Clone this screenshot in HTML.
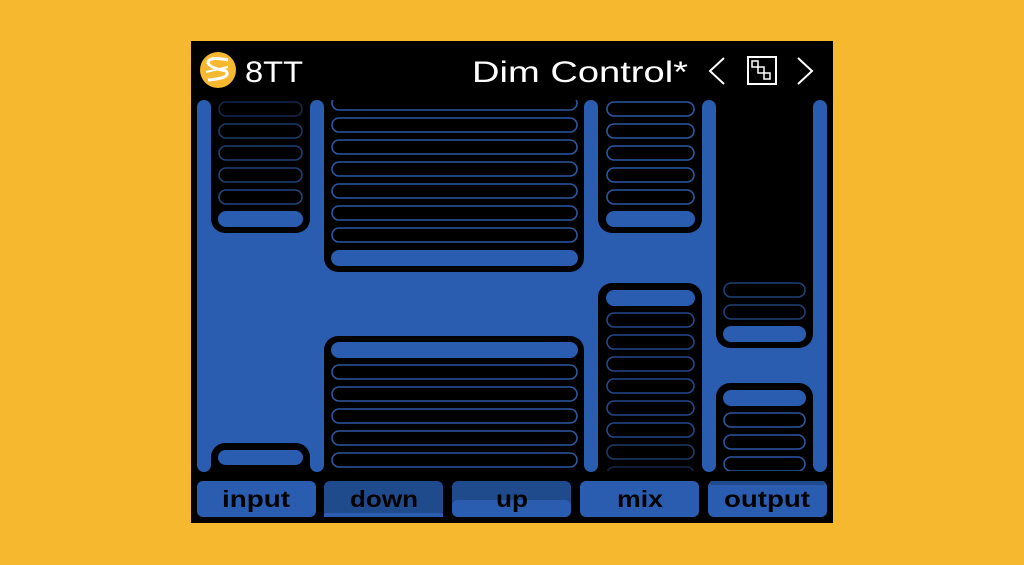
<!DOCTYPE html>
<html><head><meta charset="utf-8"><style>
html,body{margin:0;padding:0;background:#F5B82E;}
svg{display:block;}
</style></head><body>
<svg width="1024" height="565" viewBox="0 0 1024 565" xmlns="http://www.w3.org/2000/svg">
<defs><clipPath id="c"><rect x="191" y="100" width="642" height="371"/></clipPath></defs>
<rect width="1024" height="565" fill="#F5B82E"/>
<rect x="191" y="41" width="642" height="482" fill="#000"/>
<rect x="197" y="107" width="630" height="358" fill="#2A5DB0"/>
<g fill="#000">
<rect x="211" y="70" width="99" height="163" rx="14"/>
<rect x="324" y="70" width="260" height="202" rx="14"/>
<rect x="598" y="70" width="104" height="163" rx="14"/>
<rect x="716" y="70" width="97" height="278" rx="14"/>
<rect x="211" y="443" width="99" height="60" rx="14"/>
<rect x="324" y="336" width="260" height="150" rx="14"/>
<rect x="598" y="283" width="104" height="200" rx="14"/>
<rect x="716" y="383" width="97" height="100" rx="14"/>
</g>
<g fill="#2A5DB0">
<rect x="197" y="100" width="14" height="372" rx="7"/>
<rect x="310" y="100" width="14" height="372" rx="7"/>
<rect x="584" y="100" width="14" height="372" rx="7"/>
<rect x="702" y="100" width="14" height="372" rx="7"/>
<rect x="813" y="100" width="14" height="372" rx="7"/>
</g>
<g clip-path="url(#c)" stroke-width="1.6" fill="none">
<rect x="219" y="102" width="83" height="14" rx="7" stroke="#14284a"/>
<rect x="219" y="124" width="83" height="14" rx="7" stroke="#1c3a6c"/>
<rect x="219" y="146" width="83" height="14" rx="7" stroke="#1f4078"/>
<rect x="219" y="168" width="83" height="14" rx="7" stroke="#1f4078"/>
<rect x="219" y="190" width="83" height="14" rx="7" stroke="#22467f"/>
<rect x="218" y="211" width="85" height="16" rx="8" fill="#2A5DB0" stroke="none"/>
<g stroke="#2A58A2">
<rect x="332" y="96" width="245" height="14" rx="7"/>
<rect x="332" y="118" width="245" height="14" rx="7"/>
<rect x="332" y="140" width="245" height="14" rx="7"/>
<rect x="332" y="162" width="245" height="14" rx="7"/>
<rect x="332" y="184" width="245" height="14" rx="7"/>
<rect x="332" y="206" width="245" height="14" rx="7"/>
<rect x="332" y="228" width="245" height="14" rx="7"/>
</g>
<rect x="331" y="250" width="247" height="16" rx="8" fill="#2A5DB0" stroke="none"/>
<g stroke="#2A58A2">
<rect x="607" y="102" width="87" height="14" rx="7"/>
<rect x="607" y="124" width="87" height="14" rx="7"/>
<rect x="607" y="146" width="87" height="14" rx="7"/>
<rect x="607" y="168" width="87" height="14" rx="7"/>
<rect x="607" y="190" width="87" height="14" rx="7"/>
</g>
<rect x="606" y="211" width="89" height="16" rx="8" fill="#2A5DB0" stroke="none"/>
<g stroke="#1f4078">
<rect x="724" y="283" width="81" height="14" rx="7"/>
<rect x="724" y="305" width="81" height="14" rx="7"/>
</g>
<rect x="723" y="326" width="83" height="16" rx="8" fill="#2A5DB0" stroke="none"/>
<rect x="218" y="450" width="85" height="15" rx="7.5" fill="#2A5DB0" stroke="none"/>
<rect x="331" y="342" width="247" height="16" rx="8" fill="#2A5DB0" stroke="none"/>
<g stroke="#2A58A2">
<rect x="332" y="365" width="245" height="14" rx="7"/>
<rect x="332" y="387" width="245" height="14" rx="7"/>
<rect x="332" y="409" width="245" height="14" rx="7"/>
<rect x="332" y="431" width="245" height="14" rx="7"/>
<rect x="332" y="453" width="245" height="14" rx="7"/>
</g>
<rect x="606" y="290" width="89" height="16" rx="8" fill="#2A5DB0" stroke="none"/>
<g stroke="#23498a">
<rect x="607" y="313" width="87" height="14" rx="7"/>
<rect x="607" y="335" width="87" height="14" rx="7"/>
<rect x="607" y="357" width="87" height="14" rx="7"/>
<rect x="607" y="379" width="87" height="14" rx="7"/>
<rect x="607" y="401" width="87" height="14" rx="7"/>
<rect x="607" y="423" width="87" height="14" rx="7"/>
<rect x="607" y="445" width="87" height="14" rx="7" stroke="#1c3a6c"/>
<rect x="607" y="467" width="87" height="14" rx="7" stroke="#14284a"/>
</g>
<rect x="723" y="390" width="83" height="16" rx="8" fill="#2A5DB0" stroke="none"/>
<g stroke="#2A58A2">
<rect x="724" y="413" width="81" height="14" rx="7"/>
<rect x="724" y="435" width="81" height="14" rx="7"/>
<rect x="724" y="457" width="81" height="14" rx="7"/>
</g>
</g>
<rect x="197" y="481" width="119" height="36" rx="6" fill="#2A5DB0"/>
<rect x="324" y="481" width="119" height="36" rx="6" fill="#1F4A8C"/>
<rect x="324" y="513" width="119" height="4" fill="#2A5DB0"/>
<rect x="452" y="481" width="119" height="36" rx="6" fill="#1F4A8C"/>
<rect x="452" y="500" width="119" height="17" rx="6" fill="#2A5DB0"/>
<rect x="580" y="481" width="119" height="36" rx="6" fill="#2A5DB0"/>
<rect x="708" y="481" width="119" height="36" rx="6" fill="#2A5DB0"/>
<rect x="710" y="481" width="115" height="4" rx="2" fill="#1F4A8C"/>
<g font-family="Liberation Sans, sans-serif" font-weight="bold" font-size="23" fill="#000" lengthAdjust="spacingAndGlyphs">
<text x="222" y="507" textLength="68" lengthAdjust="spacingAndGlyphs">input</text>
<text x="350" y="507" textLength="68" lengthAdjust="spacingAndGlyphs">down</text>
<text x="496" y="507" textLength="32" lengthAdjust="spacingAndGlyphs">up</text>
<text x="617" y="507" textLength="46" lengthAdjust="spacingAndGlyphs">mix</text>
<text x="724" y="507" textLength="86" lengthAdjust="spacingAndGlyphs">output</text>
</g>
<circle cx="218" cy="70" r="18" fill="#F5B82E"/>
<path d="M228 60 Q208 56 208 63 Q210 68 226 71 Q232 78 208 80" stroke="#fff" stroke-width="3" fill="none"/>
<path d="M206 72 L228 67" stroke="#fff" stroke-width="2" fill="none"/>
<text x="245" y="82" font-family="Liberation Sans, sans-serif" font-size="30" fill="#fff" textLength="58" lengthAdjust="spacingAndGlyphs">8TT</text>
<text x="472" y="82" font-family="Liberation Sans, sans-serif" font-size="30" fill="#fff" textLength="216" lengthAdjust="spacingAndGlyphs">Dim Control*</text>
<path d="M724 58 L710 71 L724 84" stroke="#fff" stroke-width="2" fill="none"/>
<rect x="748" y="57" width="28" height="27" stroke="#fff" stroke-width="2" fill="none"/>
<rect x="752" y="61" width="6" height="6" stroke="#fff" stroke-width="1.5" fill="none"/>
<rect x="758" y="67" width="6" height="6" stroke="#fff" stroke-width="1.5" fill="none"/>
<rect x="764" y="73" width="6" height="6" stroke="#fff" stroke-width="1.5" fill="none"/>
<path d="M798 58 L812 71 L798 84" stroke="#fff" stroke-width="2" fill="none"/>
</svg>
</body></html>
